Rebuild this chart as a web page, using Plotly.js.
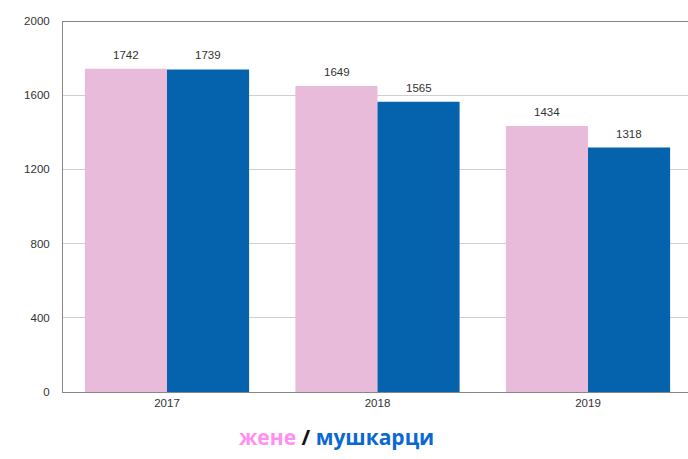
<!DOCTYPE html>
<html><head><meta charset="utf-8">
<script src="https://cdn.plot.ly/plotly-3.0.1.min.js"></script>
<style>html,body{margin:0;padding:0;background:#fff}#c{width:688px;height:459px}</style>
</head><body><div id="c"></div>
<script>
const years = ['2017','2018','2019'];
const women = [1742, 1649, 1434];
const men = [1739, 1565, 1318];
const yTicks = [0, 400, 800, 1200, 1600, 2000];

const lbl = {size: 11.5, color: '#333', family: 'Liberation Sans, Arial, sans-serif'};
const data = [
  {type:'bar', x: years, y: women, name:'жене', marker:{color:'#e8bbdb'}},
  {type:'bar', x: years, y: men, name:'мушкарци', marker:{color:'#0563ae'}}
];
const valueAnn = [];
years.forEach((yr, i) => {
  valueAnn.push({x: i, y: women[i], xref:'x', yref:'y', xshift:-41, yshift:6, yanchor:'bottom',
    showarrow:false, text:String(women[i]), font: lbl});
  valueAnn.push({x: i, y: men[i], xref:'x', yref:'y', xshift:41, yshift:6, yanchor:'bottom',
    showarrow:false, text:String(men[i]), font: lbl});
});
const layout = {
  width: 688, height: 459,
  margin: {l: 63, r: 0, t: 21, b: 67},
  paper_bgcolor:'#fff', plot_bgcolor:'#fff',
  showlegend: false,
  barmode:'group', bargap: 0.22, bargroupgap: 0,
  font: {family: 'Liberation Sans, Arial, sans-serif', size: 11, color:'#333'},
  xaxis: {type:'category', range:[-0.494, 2.475], showgrid:false, showline:true,
    linecolor:'#888', linewidth:1, ticks:'', tickfont:{size:11.5,color:'#333'}},
  yaxis: {range:[0, 2000], tickvals: yTicks, ticktext: yTicks.map(String),
    showgrid:true, gridcolor:'#cfcfcf', gridwidth:1, showline:true, linecolor:'#888',
    linewidth:1, ticks:'', ticklabelstandoff: 10, tickfont:{size:11.5,color:'#333'}, zeroline:false},
  shapes: [{type:'line', xref:'paper', yref:'y', x0:0, x1:1, y0:2000, y1:2000,
    line:{color:'#888', width:2}}],
  annotations: valueAnn.concat([{xref:'paper', yref:'paper', x:0.437, y:-0.121, xanchor:'center', yanchor:'middle',
    showarrow:false,
    text:'<b><span style="color:#ff8ff0">жене</span> / <span style="color:#0a68d4">мушкарци</span></b>',
    font:{family:'Open Sans, Noto Sans, sans-serif', size:21, color:'#111'}}])
};
Plotly.newPlot('c', data, layout, {displayModeBar:false, staticPlot:true});
</script></body></html>
